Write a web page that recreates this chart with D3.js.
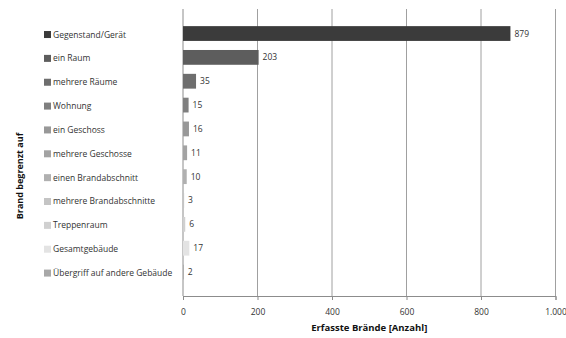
<!DOCTYPE html>
<html>
<head>
<meta charset="utf-8">
<script src="https://cdn.jsdelivr.net/npm/d3@7"></script>
<style>
  html, body { margin: 0; padding: 0; background: #fff; }
  svg { display: block; font-family: "Open Sans", sans-serif; }
</style>
</head>
<body>
<svg id="chart" width="566" height="338"></svg>
<script>
// Fire spread categories and recorded counts
const categories = [
  "Gegenstand/Gerät", "ein Raum", "mehrere Räume", "Wohnung", "ein Geschoss",
  "mehrere Geschosse", "einen Brandabschnitt", "mehrere Brandabschnitte",
  "Treppenraum", "Gesamtgebäude", "Übergriff auf andere Gebäude"
];
const counts = [879, 203, 35, 15, 16, 11, 10, 3, 6, 17, 2];
const shades = [
  "#3b3b3b", "#5d5d5d", "#6e6e6e", "#7f7f7f", "#989898", "#a3a3a3",
  "#b0b0b0", "#c4c4c4", "#d0d0d0", "#e3e3e3", "#a8a8a8"
];
const xTicks = [0, 200, 400, 600, 800, 1000];
const xTickLabels = ["0", "200", "400", "600", "800", "1.000"];

const svg = d3.select("#chart");
const plot = { left: 183, right: 555.5, top: 9, bottom: 296 };

const x = d3.scaleLinear().domain([0, 1000]).range([plot.left, plot.right]);
const y = d3.scaleBand().domain(categories).range([21.6, 284]).paddingInner(0.38).paddingOuter(0.19);
const color = d3.scaleOrdinal().domain(categories).range(shades);

// vertical gridlines
svg.append("g")
  .selectAll("line")
  .data(xTicks.slice(1))
  .join("line")
  .attr("x1", d => x(d)).attr("x2", d => x(d))
  .attr("y1", plot.top).attr("y2", plot.bottom)
  .attr("stroke", "#a0a0a0").attr("stroke-width", 1);

// x axis
const xAxis = d3.axisBottom(x)
  .tickValues(xTicks)
  .tickFormat((d, i) => xTickLabels[i])
  .tickSize(4)
  .tickPadding(9);
const gx = svg.append("g").attr("transform", `translate(0,${plot.bottom})`).call(xAxis);
gx.select(".domain").attr("stroke", "#8c8c8c");
gx.selectAll(".tick line").attr("stroke", "#8c8c8c");
gx.selectAll(".tick text").attr("fill", "#333").attr("font-size", 8.5)
  .attr("font-family", "Open Sans, sans-serif");

// left baseline
svg.append("line")
  .attr("x1", x(0)).attr("x2", x(0))
  .attr("y1", plot.top).attr("y2", plot.bottom)
  .attr("stroke", "#8c8c8c");

// bars
svg.append("g")
  .selectAll("rect")
  .data(categories)
  .join("rect")
  .attr("x", x(0))
  .attr("y", d => y(d))
  .attr("width", (d, i) => x(counts[i]) - x(0))
  .attr("height", y.bandwidth())
  .attr("fill", d => color(d));

// value labels
svg.append("g")
  .selectAll("text")
  .data(categories)
  .join("text")
  .attr("x", (d, i) => x(counts[i]) + 4)
  .attr("y", d => y(d) + y.bandwidth() / 2)
  .attr("dy", "0.35em")
  .attr("font-size", 8.5)
  .attr("fill", "#333")
  .text((d, i) => counts[i]);

// legend
const legend = svg.append("g")
  .selectAll("g")
  .data(categories)
  .join("g")
  .attr("transform", d => `translate(44,${y(d) + y.bandwidth() / 2 + 1})`);
legend.append("rect")
  .attr("x", 0).attr("y", -3.5)
  .attr("width", 7).attr("height", 7)
  .attr("fill", d => color(d));
legend.append("text")
  .attr("x", 9).attr("y", 0)
  .attr("dy", "0.35em")
  .attr("font-size", 8.5)
  .attr("fill", "#333")
  .text(d => d);

// axis titles
svg.append("text")
  .attr("x", (plot.left + plot.right) / 2)
  .attr("y", 331)
  .attr("text-anchor", "middle")
  .attr("font-size", 9.5)
  .attr("font-weight", "bold")
  .attr("fill", "#111")
  .text("Erfasste Brände [Anzahl]");

svg.append("text")
  .attr("transform", "translate(23,176) rotate(-90)")
  .attr("text-anchor", "middle")
  .attr("font-size", 9)
  .attr("font-weight", "bold")
  .attr("fill", "#111")
  .text("Brand begrenzt auf");
</script>
</body>
</html>
